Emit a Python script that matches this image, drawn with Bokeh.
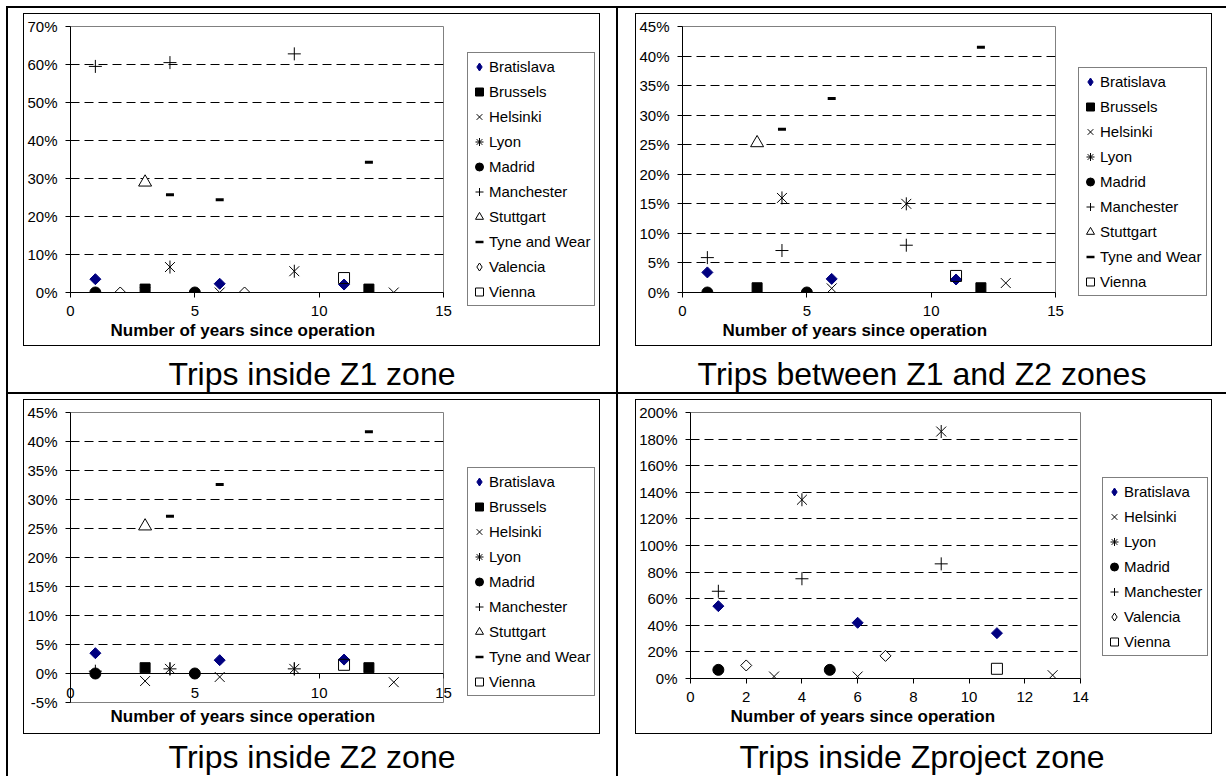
import math
from bokeh.plotting import figure
from bokeh.models import (ColumnDataSource, FixedTicker, Range1d, LinearAxis,
                          PrintfTickFormatter, Legend, LegendItem, Title, Spacer, Div,
                          GlobalInlineStyleSheet)
from bokeh.layouts import column, row
from bokeh.embed import file_html
from bokeh.resources import INLINE

# ------------------------------------------------------------------ data (%)
CITIES = ["Bratislava", "Brussels", "Helsinki", "Lyon", "Madrid", "Manchester",
          "Stuttgart", "Tyne and Wear", "Valencia", "Vienna"]
CAPTIONS = ["Trips inside Z1 zone", "Trips between Z1 and Z2 zones",
            "Trips inside Z2 zone", "Trips inside Zproject zone"]
X_TITLE = "Number of years since operation"

# Trips inside Z1 zone: (years since operation, share %)
z1_bratislava = ([1, 6, 11], [3.5, 2.3, 2.1])
z1_brussels = ([3, 12], [0.9, 0.9])
z1_helsinki = ([3, 6, 13], [0.0, 0.0, 0.0])
z1_lyon = ([4, 9], [6.7, 5.6])
z1_madrid = ([1, 5], [0.0, 0.0])
z1_manchester = ([1, 4, 9], [59.5, 60.5, 62.8])
z1_stuttgart = ([3], [29.0])
z1_tyne_and_wear = ([4, 6, 12], [25.7, 24.4, 34.3])
z1_valencia = ([2, 7], [0.0, 0.0])
z1_vienna = ([11], [3.8])

# Trips between Z1 and Z2 zones
z12_bratislava = ([1, 6, 11], [3.4, 2.3, 2.2])
z12_brussels = ([3, 12], [0.8, 0.8])
z12_helsinki = ([6, 13], [0.7, 1.6])
z12_lyon = ([4, 9], [16.0, 15.0])
z12_madrid = ([1, 5], [0.0, 0.0])
z12_manchester = ([1, 4, 9], [5.9, 7.1, 8.0])
z12_stuttgart = ([3], [25.3])
z12_tyne_and_wear = ([4, 6, 12], [27.6, 32.8, 41.5])
z12_vienna = ([11], [2.8])

# Trips inside Z2 zone
z2_bratislava = ([1, 6, 11], [3.5, 2.3, 2.4])
z2_brussels = ([3, 12], [1.0, 1.0])
z2_helsinki = ([3, 6, 13], [-1.3, -0.6, -1.5])
z2_lyon = ([4, 9], [0.8, 0.8])
z2_madrid = ([1, 5], [0.0, 0.0])
z2_manchester = ([1, 4, 9], [0.4, 0.8, 0.8])
z2_stuttgart = ([3], [25.4])
z2_tyne_and_wear = ([4, 6, 12], [27.1, 32.6, 41.7])
z2_vienna = ([11], [1.5])

# Trips inside Zproject zone
zp_bratislava = ([1, 6, 11], [54.4, 41.9, 34.1])
zp_helsinki = ([3, 6, 13], [1.5, 1.5, 2.5])
zp_lyon = ([4, 9], [134.4, 185.7])
zp_madrid = ([1, 5], [6.5, 6.5])
zp_manchester = ([1, 4, 9], [65.6, 75.0, 86.2])
zp_valencia = ([2, 7], [9.8, 17.0])
zp_vienna = ([11], [7.3])

# axis ticks
Z1_X_TICKS = [0, 5, 10, 15]
Z1_Y_TICKS = [0, 10, 20, 30, 40, 50, 60, 70]
Z12_Y_TICKS = [0, 5, 10, 15, 20, 25, 30, 35, 40, 45]
Z2_Y_TICKS = [-5, 0, 5, 10, 15, 20, 25, 30, 35, 40, 45]
ZP_X_TICKS = [0, 2, 4, 6, 8, 10, 12, 14]
ZP_Y_TICKS = [0, 20, 40, 60, 80, 100, 120, 140, 160, 180, 200]

# ------------------------------------------------------------------ styles
FONT = "Liberation Sans"
NAVY = "#000080"
STYLE = {
    "Bratislava": [dict(marker="square", size=7.8, angle=math.pi / 4, fill_color=NAVY, line_color=NAVY)],
    "Brussels": [dict(marker="square", size=10, fill_color="black", line_color="black")],
    "Helsinki": [dict(marker="x", size=14, line_color="black", line_width=1)],
    "Lyon": [dict(marker="x", size=14, line_color="black", line_width=1),
             dict(marker="dash", size=13, angle=math.pi / 2, line_color="black", line_width=1)],
    "Madrid": [dict(marker="circle", size=11, fill_color="black", line_color="black")],
    "Manchester": [dict(marker="cross", size=13, line_color="black", line_width=1)],
    "Stuttgart": [dict(marker="triangle", size=13, fill_color="white", line_color="black", line_width=1)],
    "Tyne and Wear": [dict(marker="dash", size=8, line_color="black", line_width=3)],
    "Valencia": [dict(marker="square", size=7.8, angle=math.pi / 4, fill_color="white", line_color="black")],
    "Vienna": [dict(marker="square", size=11, fill_alpha=0, line_color="black", line_width=1)],
}
LEGEND_STYLE = dict(STYLE)
LEGEND_STYLE.update({
    "Bratislava": [dict(marker="diamond", fill_color=NAVY, line_color=NAVY)],
    "Valencia": [dict(marker="diamond", fill_color="white", line_color="black")],
    "Lyon": [dict(marker="asterisk", line_color="black", line_width=1)],
    "Tyne and Wear": [dict(marker="dash", line_color="black", line_width=2.5)],
})


def style_axis(ax):
    ax.axis_line_color = "black"
    ax.axis_line_width = 1
    ax.major_tick_line_color = "black"
    ax.major_tick_out = 5
    ax.major_tick_in = 0
    ax.minor_tick_out = 0
    ax.minor_tick_in = 0
    ax.major_label_standoff = 8
    ax.major_label_text_font = FONT
    ax.major_label_text_font_size = "15px"
    ax.major_label_text_color = "black"


def make_chart(series, x_end, x_ticks, y_start, y_end, y_ticks, w, h, left, right, top, bottom,
               title_offset, title_standoff, axis_at_zero=False):
    p = figure(width=w, height=h, x_range=Range1d(0, x_end), y_range=Range1d(y_start, y_end),
               min_border_left=left, min_border_right=right, min_border_top=top,
               min_border_bottom=bottom, output_backend="svg", toolbar_location=None, tools="")
    p.title.visible = False
    p.background_fill_color = "white"
    p.border_fill_color = "white"
    p.outline_line_color = "#808080"
    p.outline_line_width = 1
    p.xgrid.visible = False
    p.ygrid.ticker = FixedTicker(ticks=[t for t in y_ticks if t not in (0, y_start, y_end)])
    p.ygrid.grid_line_color = "black"
    p.ygrid.grid_line_dash = "9 5"
    p.ygrid.grid_line_width = 1
    p.xaxis.ticker = FixedTicker(ticks=x_ticks)
    p.yaxis.ticker = FixedTicker(ticks=y_ticks)
    p.yaxis.formatter = PrintfTickFormatter(format="%d%%")
    style_axis(p.xaxis[0])
    style_axis(p.yaxis[0])
    if axis_at_zero:
        # labels stay at the bottom edge, the axis line with its ticks sits at 0 %
        xa = p.xaxis[0]
        xa.axis_line_color = None
        xa.major_tick_line_color = None
        xa.major_tick_out = 0
        xa.major_label_standoff = -15
        zero_axis = LinearAxis(ticker=FixedTicker(ticks=x_ticks), fixed_location=0)
        style_axis(zero_axis)
        zero_axis.major_label_text_color = None
        p.add_layout(zero_axis, "below")

    sources = []
    for city, (xs, ys) in series:
        src = ColumnDataSource(dict(x=xs, y=ys))
        for st in STYLE[city]:
            p.scatter(x="x", y="y", source=src, **st)
        sources.append((city, src))

    t = Title(text=X_TITLE, align="left", offset=title_offset, standoff=title_standoff,
              text_font=FONT, text_font_size="17px", text_font_style="bold", text_color="black")
    p.add_layout(t, "below")
    return p, sources


def make_legend(sources, fig_w, fig_h, label_w):
    # a small canvas that only shows the legend box (its data lies outside the view)
    lf = figure(width=fig_w, height=fig_h, x_range=Range1d(-2, -1), y_range=Range1d(-2, -1),
                min_border=0, x_axis_location=None, y_axis_location=None,
                output_backend="svg", toolbar_location=None, tools="")
    lf.title.visible = False
    lf.xgrid.visible = False
    lf.ygrid.visible = False
    lf.outline_line_color = None
    lf.background_fill_color = "white"
    lf.border_fill_color = "white"
    items = []
    for city, src in sources:
        rends = [lf.scatter(x="x", y="y", source=src, **st) for st in LEGEND_STYLE[city]]
        items.append(LegendItem(label=city, renderers=rends))
    leg = Legend(items=items, location="top_left", orientation="vertical",
                 label_text_font=FONT, label_text_font_size="15px", label_text_color="black",
                 label_standoff=0, glyph_width=20, glyph_height=25, label_height=25,
                 label_width=label_w, spacing=0, padding=1, margin=1,
                 border_line_color="black", border_line_width=1,
                 background_fill_color="white", background_fill_alpha=1.0)
    lf.add_layout(leg)
    return lf


def black(w, h):
    return Spacer(width=w, height=h, margin=0, styles={"background-color": "black"})


def chart_block(p, pw, lf, leg_top, w, h):
    legend_col = column(Spacer(width=w - pw, height=leg_top, margin=0), lf, spacing=0)
    inner = row(p, legend_col, spacing=0)
    return column(black(w + 2, 1),
                  row(black(1, h), inner, black(1, h), spacing=0),
                  black(w + 2, 1), spacing=0)


def cell(block, w, h, caption, cell_w, cell_h, off_x, off_y, cap_pad):
    cap_h = cell_h - off_y - (h + 2)
    cap = Div(text=('<div style="font-family:\'Liberation Sans\',Arial,sans-serif;font-size:32px;'
                    'line-height:32px;padding-top:%dpx;text-align:center;color:black;'
                    'white-space:nowrap;width:%dpx;">%s</div>' % (cap_pad, cell_w, caption)),
              width=cell_w, height=cap_h, margin=0)
    return column(Spacer(width=cell_w, height=off_y, margin=0),
                  row(Spacer(width=off_x, height=h + 2, margin=0), block, spacing=0),
                  cap, spacing=0)


W = 575

# --- Trips inside Z1 zone
p1, s1 = make_chart([("Bratislava", z1_bratislava), ("Brussels", z1_brussels), ("Helsinki", z1_helsinki),
                     ("Lyon", z1_lyon), ("Madrid", z1_madrid), ("Manchester", z1_manchester),
                     ("Stuttgart", z1_stuttgart), ("Tyne and Wear", z1_tyne_and_wear),
                     ("Valencia", z1_valencia), ("Vienna", z1_vienna)],
                    15, Z1_X_TICKS, 0, 70, Z1_Y_TICKS, 442, 331, 44, 23, 12, 53, 40, 0)
l1 = make_legend(s1, W - 442, 331 - 37, 104)
b1 = chart_block(p1, 442, l1, 37, W, 331)

# --- Trips between Z1 and Z2 zones
p2, s2 = make_chart([("Bratislava", z12_bratislava), ("Brussels", z12_brussels), ("Helsinki", z12_helsinki),
                     ("Lyon", z12_lyon), ("Madrid", z12_madrid), ("Manchester", z12_manchester),
                     ("Stuttgart", z12_stuttgart), ("Tyne and Wear", z12_tyne_and_wear),
                     ("Vienna", z12_vienna)],
                    15, Z1_X_TICKS, 0, 45, Z12_Y_TICKS, 441, 331, 45, 22, 12, 53, 40, 0)
l2 = make_legend(s2, W - 441, 331 - 52, 105)
b2 = chart_block(p2, 441, l2, 52, W, 331)

# --- Trips inside Z2 zone
p3, s3 = make_chart([("Bratislava", z2_bratislava), ("Brussels", z2_brussels), ("Helsinki", z2_helsinki),
                     ("Lyon", z2_lyon), ("Madrid", z2_madrid), ("Manchester", z2_manchester),
                     ("Stuttgart", z2_stuttgart), ("Tyne and Wear", z2_tyne_and_wear),
                     ("Vienna", z2_vienna)],
                    15, Z1_X_TICKS, -5, 45, Z2_Y_TICKS, 442, 333, 44, 23, 12, 31, 40, 4,
                    axis_at_zero=True)
l3 = make_legend(s3, W - 442, 333 - 66, 104)
b3 = chart_block(p3, 442, l3, 66, W, 333)

# --- Trips inside Zproject zone
p4, s4 = make_chart([("Bratislava", zp_bratislava), ("Helsinki", zp_helsinki), ("Lyon", zp_lyon),
                     ("Madrid", zp_madrid), ("Manchester", zp_manchester), ("Valencia", zp_valencia),
                     ("Vienna", zp_vienna)],
                    14, ZP_X_TICKS, 0, 200, ZP_Y_TICKS, 465, 333, 52, 21, 12, 55, 40, 0)
l4 = make_legend(s4, W - 465, 333 - 76, 82)
b4 = chart_block(p4, 465, l4, 76, W, 333)

H1, H2 = 384, 382
c1 = cell(b1, W, 331, CAPTIONS[0], 608, H1, 15, 5, 12)
c2 = cell(b2, W, 331, CAPTIONS[1], 608, H1, 17, 5, 12)
c3 = cell(b3, W, 333, CAPTIONS[2], 608, H2, 15, 5, 7)
c4 = cell(b4, W, 333, CAPTIONS[3], 608, H2, 17, 5, 7)

row1 = row(Spacer(width=6, height=H1, margin=0), black(2, H1), c1, black(2, H1), c2, spacing=0)
row2 = row(Spacer(width=6, height=H2, margin=0), black(2, H2), c3, black(2, H2), c4, spacing=0)
hline1 = row(Spacer(width=6, height=2, margin=0), black(1220, 2), spacing=0)
hline2 = row(Spacer(width=6, height=2, margin=0), black(1220, 2), spacing=0)
root = column(Spacer(width=1226, height=6, margin=0), hline1, row1, hline2, row2, spacing=0,
              stylesheets=[GlobalInlineStyleSheet(css="html, body {margin:0; padding:0; background:white;}")])

open("out.html", "w").write(file_html(root, INLINE))
